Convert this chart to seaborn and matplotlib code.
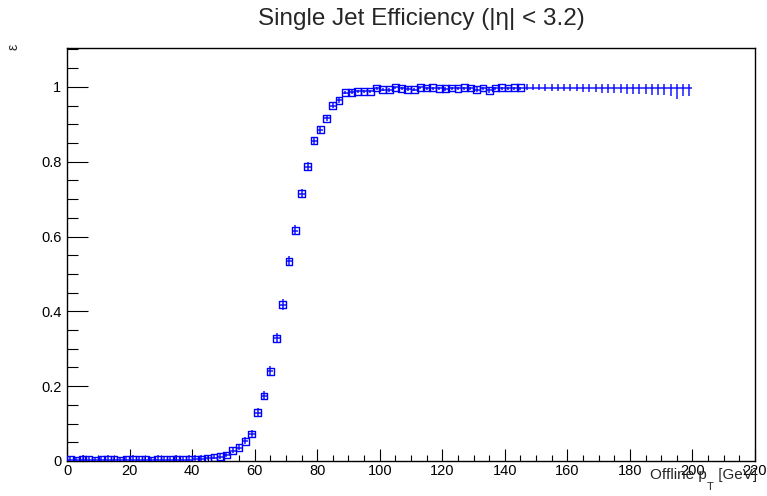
import numpy as np
import pandas as pd
import matplotlib
matplotlib.use("Agg")
import matplotlib.pyplot as plt
import seaborn as sns
from matplotlib.ticker import MultipleLocator, FuncFormatter

# ---------------- data ----------------
bin_width = 2.0
pt_centers = np.arange(1, 200, 2)  # bin centers of 2 GeV bins from 0 to 200

eff = [0.003, 0.002, 0.004, 0.003, 0.002, 0.003, 0.004, 0.003, 0.002, 0.003,
       0.004, 0.003, 0.003, 0.002, 0.004, 0.003, 0.003, 0.004, 0.003, 0.004,
       0.005, 0.005, 0.007, 0.009, 0.011, 0.016, 0.027, 0.036, 0.053, 0.072,
       0.129, 0.174, 0.240, 0.328, 0.418, 0.534, 0.616, 0.714, 0.787, 0.856,
       0.886, 0.916, 0.950, 0.964, 0.985, 0.986, 0.988, 0.988, 0.988, 0.997,
       0.993, 0.992, 0.999, 0.996, 0.994, 0.993, 0.999, 0.997, 0.998, 0.996,
       0.995, 0.997, 0.996, 0.998, 0.997, 0.993, 0.997, 0.991, 0.997, 0.998,
       0.997, 0.998, 0.998, 0.996, 0.996, 0.996, 0.996, 0.996, 0.996, 0.996,
       0.996, 0.996, 0.996, 0.996, 0.996, 0.996, 0.996, 0.996, 0.996, 0.996,
       0.996, 0.996, 0.996, 0.996, 0.996, 0.996, 0.996, 0.996, 0.996, 0.996]

err_lo = [0.003, 0.002, 0.004, 0.003, 0.002, 0.003, 0.004, 0.003, 0.002, 0.003,
          0.004, 0.003, 0.003, 0.002, 0.004, 0.003, 0.003, 0.004, 0.003, 0.004,
          0.005, 0.005, 0.004, 0.004, 0.005, 0.005, 0.006, 0.007, 0.008, 0.009,
          0.010, 0.011, 0.012, 0.013, 0.014, 0.014, 0.013, 0.012, 0.011, 0.010,
          0.009, 0.008, 0.007, 0.006, 0.005, 0.005, 0.005, 0.005, 0.005, 0.004,
          0.005, 0.005, 0.004, 0.005, 0.005, 0.005, 0.004, 0.005, 0.005, 0.005,
          0.005, 0.005, 0.005, 0.005, 0.005, 0.006, 0.005, 0.007, 0.006, 0.006,
          0.006, 0.006, 0.006, 0.004, 0.005, 0.005, 0.006, 0.006, 0.006, 0.007,
          0.007, 0.008, 0.009, 0.009, 0.010, 0.011, 0.012, 0.013, 0.013, 0.014,
          0.014, 0.015, 0.016, 0.017, 0.017, 0.018, 0.019, 0.027, 0.019, 0.019]

err_hi = [0.010, 0.009, 0.011, 0.010, 0.009, 0.010, 0.011, 0.010, 0.009, 0.010,
          0.011, 0.010, 0.010, 0.009, 0.011, 0.010, 0.010, 0.011, 0.010, 0.011,
          0.011, 0.011, 0.008, 0.008, 0.008, 0.008, 0.008, 0.009, 0.010, 0.011,
          0.012, 0.013, 0.014, 0.015, 0.015, 0.015, 0.014, 0.013, 0.012, 0.011,
          0.010, 0.008, 0.007, 0.006, 0.005, 0.005, 0.005, 0.005, 0.005, 0.003,
          0.004, 0.005, 0.001, 0.004, 0.005, 0.005, 0.001, 0.003, 0.002, 0.004,
          0.005, 0.003, 0.004, 0.002, 0.003, 0.006, 0.003, 0.007, 0.003, 0.002,
          0.003, 0.002, 0.002, 0.012, 0.012, 0.012, 0.012, 0.012, 0.012, 0.012,
          0.012, 0.012, 0.012, 0.012, 0.012, 0.012, 0.012, 0.012, 0.012, 0.012,
          0.012, 0.012, 0.012, 0.012, 0.012, 0.012, 0.012, 0.012, 0.012, 0.012]

x_ticks = [0, 20, 40, 60, 80, 100, 120, 140, 160, 180, 200, 220]
y_ticks = [0, 0.2, 0.4, 0.6, 0.8, 1.0]

title = "Single Jet Efficiency (|η| < 3.2)"
xlabel_main = "Offline p"
xlabel_sub = "T"
xlabel_unit = " [GeV]"
ylabel = "ε"

df = pd.DataFrame({"pt": pt_centers, "eff": eff,
                   "lo": err_lo, "hi": err_hi})

# ---------------- style ----------------
sns.set_theme(style="ticks")
plt.rcParams["font.family"] = ["Liberation Sans", "DejaVu Sans"]

W, H = 767, 496
fig = plt.figure(figsize=(W / 100, H / 100), dpi=100)
fig.patch.set_facecolor("white")
ax = fig.add_axes([67 / W, 35 / H, 688 / W, 413 / H])
ax.set_facecolor("white")

blue = "#0000ff"
ax.errorbar(df["pt"], df["eff"], xerr=bin_width / 2,
            yerr=[df["lo"], df["hi"]], fmt="none", ecolor=blue,
            elinewidth=1.1, capsize=0, zorder=3, alpha=0.9)
marked = df[df["pt"] < 146]
sns.scatterplot(data=marked, x="pt", y="eff", marker="s", s=24,
                facecolor="none", edgecolor=blue, linewidth=1.0,
                ax=ax, zorder=4, legend=False)

ax.set_xlim(0, 220)
ax.set_ylim(0, 1.104)
ax.set_xlabel("")
ax.set_ylabel("")

ax.set_xticks(x_ticks)
ax.set_yticks(y_ticks)
ax.xaxis.set_minor_locator(MultipleLocator(5))
ax.yaxis.set_minor_locator(MultipleLocator(0.05))
ax.yaxis.set_major_formatter(FuncFormatter(lambda v, p: f"{v:g}"))
ax.xaxis.set_major_formatter(FuncFormatter(lambda v, p: f"{v:g}"))

ax.tick_params(axis="both", which="both", direction="in", colors="black",
               labelsize=10.5, top=False, right=False, width=0.8)
ax.tick_params(axis="x", which="major", length=8.5, pad=2)
ax.tick_params(axis="x", which="minor", length=4.3)
ax.tick_params(axis="y", which="major", length=15, pad=4)
ax.tick_params(axis="y", which="minor", length=8)

for s in ax.spines.values():
    s.set_visible(True)
    s.set_color("black")
    s.set_linewidth(1.0)

fig.text(421 / W, 1 - 19 / H, title, ha="center", va="center", fontsize=17.5)

# x-axis title, right-aligned at the axis end, with a low subscript T
t_unit = fig.text(757 / W, 1 - 479 / H, xlabel_unit, ha="right",
                  va="baseline", fontsize=11)
fig.canvas.draw()
bb = t_unit.get_window_extent()
t_sub = fig.text(bb.x0 / W, 1 - 490 / H, xlabel_sub, ha="right",
                 va="baseline", fontsize=8)
fig.canvas.draw()
bb2 = t_sub.get_window_extent()
fig.text(bb2.x0 / W, 1 - 479 / H, xlabel_main, ha="right",
         va="baseline", fontsize=11)

fig.text(13 / W, 1 - 47 / H, ylabel, ha="center", va="center",
         fontsize=10, rotation=90)

fig.savefig("out.png", dpi=100, facecolor="white")
